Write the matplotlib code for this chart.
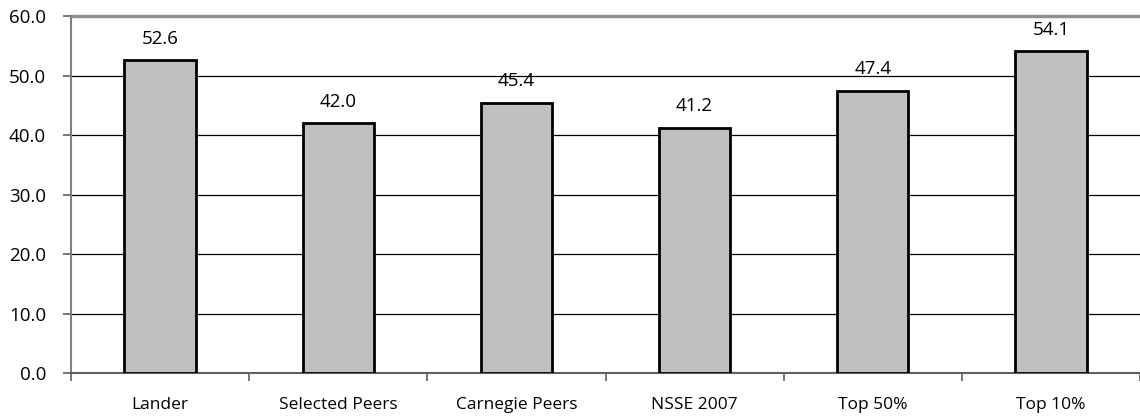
import numpy as np
import matplotlib
matplotlib.use("Agg")
import matplotlib.pyplot as pl

categories = ["Lander", "Selected Peers", "Carnegie Peers", "NSSE 2007", "Top 50%", "Top 10%"]
values = [52.6, 42.0, 45.4, 41.2, 47.4, 54.1]
yticks = [0, 10, 20, 30, 40, 50, 60]

pl.rcParams["font.family"] = ["Open Sans", "DejaVu Sans"]
fontsize = 12.5
numsize = 13.5

fig = pl.figure(figsize=(11.4, 4.17), dpi=100)
ax = fig.add_axes([0.0623, 0.1055, 0.9377, 0.8561])

x = np.arange(len(categories))
ax.bar(x, values, width=0.4, color="#C0C0C0", edgecolor="black", linewidth=2, zorder=3)
for xi, v in zip(x, values):
    ax.annotate(f"{v:.1f}", (xi, v), xytext=(0, 9), textcoords="offset points",
                ha="center", va="bottom", fontsize=numsize)

ax.set_xlim(-0.5, len(categories) - 0.5)
ax.set_ylim(0, 60)
ax.set_yticks(yticks)
ax.set_yticklabels([f"{t:.1f}" for t in yticks], fontsize=numsize)
ax.yaxis.grid(True, color="black", linewidth=0.9, zorder=0)
ax.set_axisbelow(True)

# category ticks sit between the bars, labels centred under them
ax.set_xticks(np.arange(len(categories) + 1) - 0.5)
ax.set_xticklabels([])
ax.set_xticks(x, minor=True)
ax.set_xticklabels(categories, minor=True, fontsize=fontsize)
ax.tick_params(axis="x", which="minor", length=0, pad=17)
ax.tick_params(axis="x", which="major", length=6, color="#606060", width=1.2)
ax.tick_params(axis="y", length=6, color="#606060", width=1.2, pad=12)

for side in ("top", "right"):
    ax.spines[side].set_visible(False)
ax.spines["left"].set_color("#808080")
ax.spines["left"].set_linewidth(1.5)
ax.spines["bottom"].set_color("#606060")
ax.spines["bottom"].set_linewidth(1.5)
ax.axhline(60, color="#909090", linewidth=2.5, zorder=1, clip_on=False)

fig.savefig("out.png", dpi=100)
